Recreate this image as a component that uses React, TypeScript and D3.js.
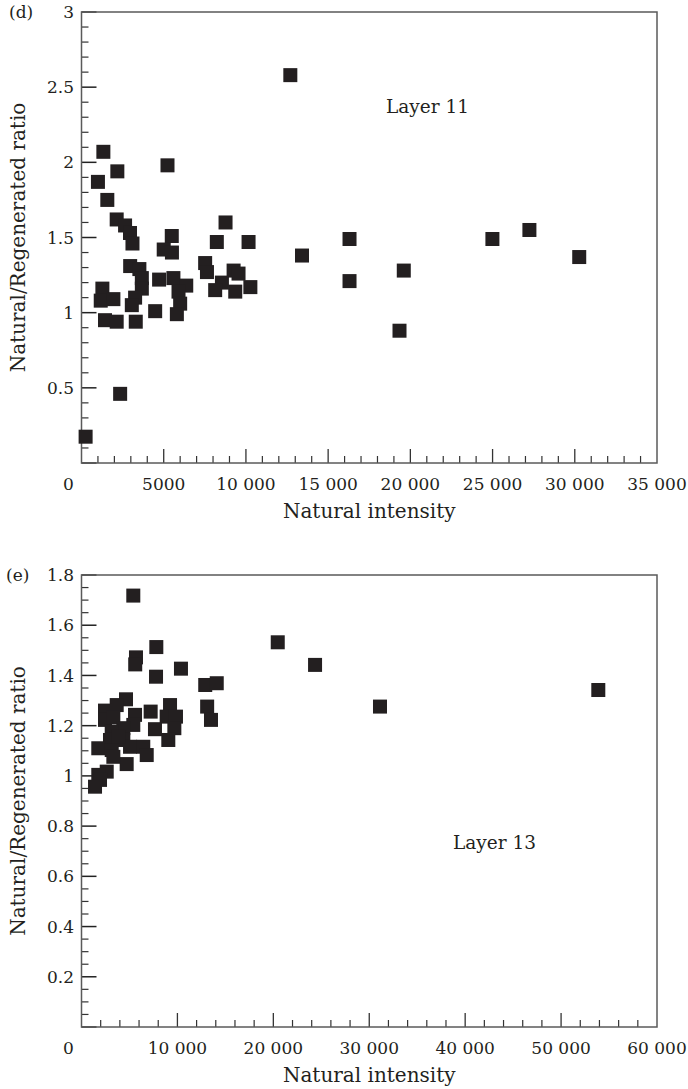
import React from "react";
import * as d3 from "d3";

// ---- Panel (d): Layer 11 ----
const topX = [12700, 1330, 1000, 2180, 5230, 1570, 2140, 2650, 2950, 3100, 8760, 5490, 5000, 5500, 8230, 10160, 13410, 16300, 16300, 19600, 19340, 24990, 27240, 30270, 2960, 3520, 3670, 3670, 3260, 3060, 4720, 5590, 6370, 5900, 6000, 5800, 7520, 7630, 9250, 9550, 8540, 8130, 9350, 10270, 1270, 1170, 1940, 1430, 2140, 3300, 4480, 2350, 250];
const topY = [2.58, 2.07, 1.87, 1.94, 1.98, 1.75, 1.62, 1.58, 1.53, 1.46, 1.6, 1.51, 1.42, 1.4, 1.47, 1.47, 1.38, 1.49, 1.21, 1.28, 0.88, 1.49, 1.55, 1.37, 1.31, 1.29, 1.23, 1.16, 1.1, 1.05, 1.22, 1.23, 1.18, 1.14, 1.06, 0.99, 1.33, 1.27, 1.28, 1.26, 1.2, 1.15, 1.14, 1.17, 1.16, 1.08, 1.09, 0.95, 0.94, 0.94, 1.01, 0.46, 0.175];
const topXTicks = [0, 5000, 10000, 15000, 20000, 25000, 30000, 35000];
const topXTickLabels = ["0", "5000", "10 000", "15 000", "20 000", "25 000", "30 000", "35 000"];
const topYTicks = [0.5, 1, 1.5, 2, 2.5, 3];
const topYTickLabels = ["0.5", "1", "1.5", "2", "2.5", "3"];

// ---- Panel (e): Layer 13 ----
const botX = [5400, 7800, 5680, 5600, 7770, 10370, 12900, 14100, 13100, 13500, 20460, 24350, 31120, 53880, 4640, 3670, 2450, 2450, 3320, 5580, 7210, 9230, 8880, 9850, 9680, 7660, 9050, 5400, 4360, 3150, 2970, 4360, 1750, 3150, 5060, 6440, 6800, 4710, 2630, 1750, 1930, 1410, 3840, 3320];
const botY = [1.718, 1.513, 1.472, 1.444, 1.395, 1.427, 1.362, 1.369, 1.276, 1.223, 1.532, 1.442, 1.276, 1.342, 1.305, 1.282, 1.26, 1.223, 1.233, 1.243, 1.256, 1.282, 1.236, 1.236, 1.19, 1.186, 1.143, 1.203, 1.19, 1.176, 1.143, 1.143, 1.11, 1.103, 1.116, 1.116, 1.083, 1.047, 1.017, 1.004, 0.984, 0.957, 1.156, 1.076];
const botXTicks = [0, 10000, 20000, 30000, 40000, 50000, 60000];
const botXTickLabels = ["0", "10 000", "20 000", "30 000", "40 000", "50 000", "60 000"];
const botYTicks = [0.2, 0.4, 0.6, 0.8, 1, 1.2, 1.4, 1.6, 1.8];
const botYTickLabels = ["0.2", "0.4", "0.6", "0.8", "1", "1.2", "1.4", "1.6", "1.8"];

const FONT = "'DejaVu Serif', 'Liberation Serif', serif";
const INK = "#231f20";

type PanelProps = {
  xs: number[];
  ys: number[];
  xMax: number;
  yMax: number;
  xMinorStep: number;
  yMinorStep: number;
  xTicks: number[];
  xTickLabels: string[];
  yTicks: number[];
  yTickLabels: string[];
  top: number;
  bottom: number;
  panelLabel: string;
  panelLabelX: number;
  layerLabel: string;
  layerX: number;
  layerY: number;
};

function Panel(p: PanelProps) {
  const left = 81.5;
  const right = 657;
  const x = d3.scaleLinear().domain([0, p.xMax]).range([left, right]);
  const y = d3.scaleLinear().domain([0, p.yMax]).range([p.bottom, p.top]);
  const nxMinor = Math.round(p.xMax / p.xMinorStep);
  const nyMinor = Math.round(p.yMax / p.yMinorStep);
  const xMinor = d3.range(1, nxMinor).map((i) => i * p.xMinorStep);
  const yMinor = d3.range(1, nyMinor).map((i) => i * p.yMinorStep);
  const isMajor = (v: number, ticks: number[]) => ticks.some((t) => Math.abs(t - v) < 1e-6);
  const size = 14;
  const midY = (p.top + p.bottom) / 2;
  return (
    <g>
      {xMinor.filter((v) => !isMajor(v, p.xTicks)).map((v, i) => (
        <line key={"xm" + i} x1={x(v)} x2={x(v)} y1={p.bottom} y2={p.bottom - 7} stroke="#333" strokeWidth={1.2} />
      ))}
      {p.xTicks.filter((v) => v > 0 && v < p.xMax).map((v, i) => (
        <line key={"xM" + i} x1={x(v)} x2={x(v)} y1={p.bottom} y2={p.bottom - 14} stroke="#333" strokeWidth={1.3} />
      ))}
      {yMinor.filter((v) => !isMajor(v, p.yTicks)).map((v, i) => (
        <line key={"ym" + i} x1={left} x2={left + 7} y1={y(v)} y2={y(v)} stroke="#333" strokeWidth={1.2} />
      ))}
      {[0, ...p.yTicks].map((v, i) => (
        <line key={"yM" + i} x1={left} x2={left + 15} y1={y(v)} y2={y(v)} stroke="#222" strokeWidth={1.5} />
      ))}
      <rect x={left} y={p.top} width={right - left} height={p.bottom - p.top} fill="none" stroke="#5a5a5a" strokeWidth={1.5} />
      {p.xs.map((xv, i) => (
        <rect key={"pt" + i} x={x(xv) - size / 2} y={y(p.ys[i]) - size / 2} width={size} height={size} fill={INK} />
      ))}
      {p.xTicks.map((v, i) => (
        <text key={"xl" + i} x={v === 0 ? x(v) - 13 : x(v)} y={p.bottom + 27} textAnchor="middle" fontFamily={FONT} fontSize={17} fill={INK}>
          {p.xTickLabels[i]}
        </text>
      ))}
      {p.yTicks.map((v, i) => (
        <text key={"yl" + i} x={74} y={y(v)} dy="0.36em" textAnchor="end" fontFamily={FONT} fontSize={17} fill={INK}>
          {p.yTickLabels[i]}
        </text>
      ))}
      <text x={p.panelLabelX} y={p.top} dy="0.36em" fontFamily={FONT} fontSize={17} fill={INK}>
        {p.panelLabel}
      </text>
      <text x={(left + right) / 2} y={p.bottom + 55} textAnchor="middle" fontFamily={FONT} fontSize={20} fill={INK}>
        Natural intensity
      </text>
      <text transform={`translate(25,${midY}) rotate(-90)`} textAnchor="middle" fontFamily={FONT} fontSize={20} fill={INK}>
        Natural/Regenerated ratio
      </text>
      <text x={p.layerX} y={p.layerY} fontFamily={FONT} fontSize={18.5} fill={INK}>
        {p.layerLabel}
      </text>
    </g>
  );
}

export default function App() {
  return (
    <svg width={688} height={1089} style={{ position: "absolute", left: 0, top: 0, background: "#fff" }}>
      <rect width={688} height={1089} fill="#fff" />
      <Panel
        xs={topX}
        ys={topY}
        xMax={35000}
        yMax={3}
        xMinorStep={1000}
        yMinorStep={0.1}
        xTicks={topXTicks}
        xTickLabels={topXTickLabels}
        yTicks={topYTicks}
        yTickLabels={topYTickLabels}
        top={12}
        bottom={463}
        panelLabel="(d)"
        panelLabelX={9}
        layerLabel="Layer 11"
        layerX={386}
        layerY={113}
      />
      <Panel
        xs={botX}
        ys={botY}
        xMax={60000}
        yMax={1.8}
        xMinorStep={2000}
        yMinorStep={0.05}
        xTicks={botXTicks}
        xTickLabels={botXTickLabels}
        yTicks={botYTicks}
        yTickLabels={botYTickLabels}
        top={575}
        bottom={1027}
        panelLabel="(e)"
        panelLabelX={6}
        layerLabel="Layer 13"
        layerX={453}
        layerY={849}
      />
    </svg>
  );
}
